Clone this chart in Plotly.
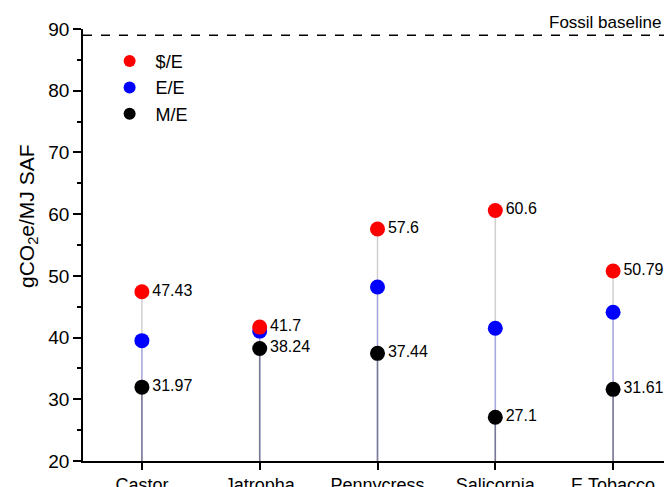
import plotly.graph_objects as go

categories = ["Castor", "Jatropha", "Pennycress", "Salicornia", "E.Tobacco"]
dollar_e = [47.43, 41.7, 57.6, 60.6, 50.79]
energy_e = [39.5, 41.05, 48.2, 41.5, 44.1]
mass_e = [31.97, 38.24, 37.44, 27.1, 31.61]
fossil_baseline = 89.0
y_floor = 20

fig = go.Figure()

def drop_lines(vals, color):
    xs, ys = [], []
    for c, v in zip(categories, vals):
        xs += [c, c, None]
        ys += [y_floor, v, None]
    fig.add_trace(go.Scatter(x=xs, y=ys, mode="lines", line=dict(color=color, width=1.5),
                             showlegend=False, hoverinfo="skip"))

drop_lines(dollar_e, "rgba(170,170,170,0.55)")
drop_lines(energy_e, "rgba(90,90,255,0.35)")
drop_lines(mass_e, "rgba(60,60,60,0.45)")

fig.add_trace(go.Scatter(x=categories, y=energy_e, mode="markers", name="E/E", legendrank=2,
                         marker=dict(color="#0000ff", size=15)))
fig.add_trace(go.Scatter(x=categories, y=dollar_e, mode="markers+text", name="$/E", legendrank=1,
                         marker=dict(color="#ff0000", size=15),
                         text=[f"{v:g}" for v in dollar_e], textposition="middle right",
                         textfont=dict(size=16, color="black")))
fig.add_trace(go.Scatter(x=categories, y=mass_e, mode="markers+text", name="M/E", legendrank=3,
                         marker=dict(color="#000000", size=15),
                         text=[f"{v:g}" for v in mass_e], textposition="middle right",
                         textfont=dict(size=16, color="black")))

fig.add_shape(type="line", xref="paper", x0=0, x1=1, yref="y", y0=fossil_baseline, y1=fossil_baseline,
              line=dict(color="black", width=1.5, dash="dash"))
fig.add_annotation(xref="paper", x=0.985, yref="y", y=fossil_baseline, text="Fossil baseline",
                   showarrow=False, xanchor="right", yanchor="bottom", yshift=1,
                   font=dict(size=17, color="black"))
fig.add_annotation(xref="paper", x=-0.0934, yref="paper", y=0.567, text="gCO<sub>2</sub>e/MJ SAF",
                   textangle=-90, showarrow=False, xanchor="center", yanchor="middle",
                   font=dict(size=21, color="black"))

fig.update_layout(
    width=664, height=479,
    margin=dict(l=75, r=0, t=21, b=26),
    plot_bgcolor="white", paper_bgcolor="white",
    font=dict(family="Liberation Sans, Arial, sans-serif", color="black"),
    legend=dict(x=0.035, y=0.968, xanchor="left", yanchor="top", bgcolor="rgba(0,0,0,0)",
                font=dict(size=18), itemsizing="constant", itemwidth=42, tracegroupgap=0),
    xaxis=dict(type="category", range=[-0.5, 4.5], showline=True, linecolor="black", linewidth=1.5,
               ticks="outside", ticklen=7, tickwidth=1.5, tickcolor="black", showgrid=False,
               tickfont=dict(size=18), mirror=False, automargin=False),
    yaxis=dict(range=[20, 90], dtick=10, showline=True, linecolor="black", linewidth=1.5,
               ticks="outside", ticklen=8, tickwidth=1.5, tickcolor="black", showgrid=False,
               zeroline=False, tickfont=dict(size=19), automargin=False,
               minor=dict(ticks="outside", ticklen=4, dtick=5, tickcolor="black", tickwidth=1.5)),
)

fig.write_html("out.html")
